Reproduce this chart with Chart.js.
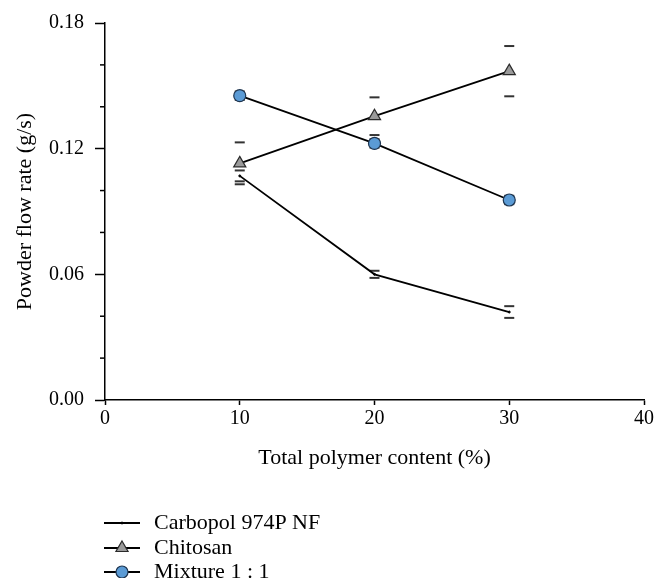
<!DOCTYPE html>
<html><head><meta charset="utf-8">
<script src="https://cdn.jsdelivr.net/npm/chart.js@4.4.0/dist/chart.umd.min.js"></script>
<style>html,body{margin:0;padding:0;background:#fff;}#wrap{position:relative;width:668px;height:578px;}</style>
</head><body><div id="wrap"><canvas id="c" width="668" height="578"></canvas></div>
<script>
const xValues = [10, 20, 30];
const carbopol = [0.107, 0.060, 0.042];
const carbopolErr = [0.0026, 0.0017, 0.0028];
const chitosan = [0.113, 0.1355, 0.157];
const chitosanErr = [0.010, 0.009, 0.012];
const mixture = [0.1453, 0.1225, 0.0955];
const mixtureErr = [0.002, 0.002, 0.002];
const seriesNames = ['Carbopol 974P NF', 'Chitosan', 'Mixture 1 : 1'];
const yMinorTicks = [0.02, 0.04, 0.08, 0.10, 0.14, 0.16];
const xTitle = 'Total polymer content (%)';
const yTitle = 'Powder flow rate (g/s)';

const FONT = 'Liberation Serif';
const pts = (ys) => xValues.map((x, i) => ({x: x, y: ys[i]}));

const errorBars = {
  id: 'errorBars',
  beforeDatasetsDraw(chart) {
    const ctx = chart.ctx, ys = chart.scales.y, xs = chart.scales.x;
    const sets = [[carbopol, carbopolErr], [chitosan, chitosanErr], [mixture, mixtureErr]];
    ctx.save();
    ctx.strokeStyle = '#333';
    ctx.lineWidth = 2;
    sets.forEach(([vals, errs]) => {
      vals.forEach((v, i) => {
        const px = xs.getPixelForValue(xValues[i]);
        [v + errs[i], v - errs[i]].forEach(e => {
          const py = ys.getPixelForValue(e);
          ctx.beginPath(); ctx.moveTo(px - 5, py); ctx.lineTo(px + 5, py); ctx.stroke();
        });
      });
    });
    ctx.restore();
  },
  afterDraw(chart) {
    const ctx = chart.ctx, ys = chart.scales.y, left = chart.chartArea.left;
    ctx.save();
    ctx.strokeStyle = '#000'; ctx.lineWidth = 1.5;
    yMinorTicks.forEach(v => {
      const py = ys.getPixelForValue(v);
      ctx.beginPath(); ctx.moveTo(left - 5, py); ctx.lineTo(left, py); ctx.stroke();
    });
    // legend
    const rows = [523, 548, 572];
    chart.data.datasets.forEach((ds, i) => {
      const y = rows[i];
      ctx.strokeStyle = '#000'; ctx.lineWidth = 1.8;
      ctx.beginPath(); ctx.moveTo(104, y); ctx.lineTo(140, y); ctx.stroke();
      ctx.fillStyle = ds.pointBackgroundColor; ctx.strokeStyle = ds.pointBorderColor; ctx.lineWidth = ds.pointBorderWidth;
      Chart.helpers.drawPoint(ctx, {pointStyle: ds.pointStyle, radius: ds.pointRadius, borderWidth: ds.pointBorderWidth, rotation: 0}, 122, y);
      ctx.fillStyle = '#000';
      ctx.font = '22px "' + FONT + '"';
      ctx.textBaseline = 'middle'; ctx.textAlign = 'left';
      ctx.fillText(ds.label, 154, y);
    });
    ctx.restore();
  }
};

new Chart(document.getElementById('c'), {
  type: 'line',
  data: {
    datasets: [
      {label: seriesNames[0], data: pts(carbopol), borderColor: '#000', borderWidth: 1.8,
       pointStyle: 'circle', pointRadius: 1, pointBackgroundColor: '#000', pointBorderColor: '#000', pointBorderWidth: 1},
      {label: seriesNames[1], data: pts(chitosan), borderColor: '#000', borderWidth: 1.8,
       pointStyle: 'triangle', pointRadius: 7, pointBackgroundColor: '#9a9a9a', pointBorderColor: '#2a2a2a', pointBorderWidth: 1.2},
      {label: seriesNames[2], data: pts(mixture), borderColor: '#000', borderWidth: 1.8,
       pointStyle: 'circle', pointRadius: 6, pointBackgroundColor: '#5b9bd5', pointBorderColor: '#1e3550', pointBorderWidth: 1.2}
    ]
  },
  options: {
    responsive: false, animation: false,
    clip: false,
    layout: {padding: {left: 0, right: 24, top: 21, bottom: 107}},
    plugins: {legend: {display: false}, tooltip: {enabled: false}},
    scales: {
      x: {
        type: 'linear', min: 0, max: 40,
        afterFit: s => { s.height = 71; },
        ticks: {stepSize: 10, color: '#000', font: {family: FONT, size: 20}, padding: 2, maxRotation: 0},
        grid: {drawOnChartArea: false, drawTicks: true, tickLength: 5, tickColor: '#000', tickWidth: 1.5},
        border: {display: true, color: '#000', width: 1.5},
        title: {display: true, text: xTitle, color: '#000', font: {family: FONT, size: 22}, padding: {top: 0, bottom: 0}}
      },
      y: {
        type: 'linear', min: 0, max: 0.18,
        afterFit: s => { s.width = 105; },
        ticks: {stepSize: 0.06, color: '#000', font: {family: FONT, size: 20}, padding: 11,
                callback: v => Number(v).toFixed(2)},
        grid: {drawOnChartArea: false, drawTicks: true, tickLength: 10, tickColor: '#000', tickWidth: 1.5},
        border: {display: true, color: '#000', width: 1.5},
        title: {display: true, text: yTitle, color: '#000', font: {family: FONT, size: 22}, padding: {top: 12, bottom: 0}}
      }
    }
  },
  plugins: [errorBars]
});
</script></body></html>
